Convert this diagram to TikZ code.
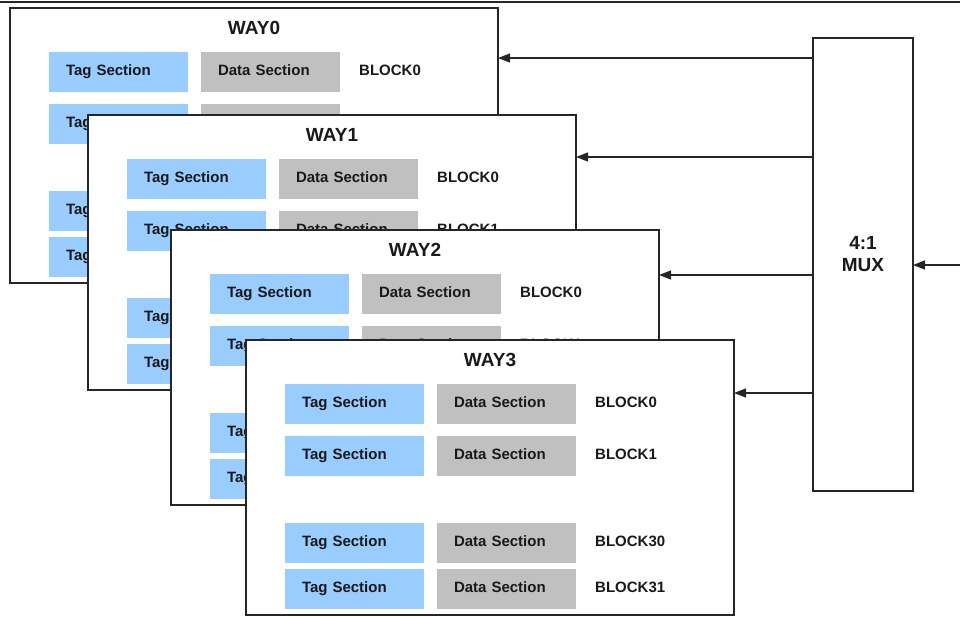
\documentclass[tikz,border=0pt]{standalone}
\usepackage{fontspec}
\setmainfont{Liberation Sans}
\usetikzlibrary{arrows.meta}
\definecolor{tagblue}{HTML}{99CCFF}
\definecolor{datagray}{HTML}{C0C0C0}
\tikzset{
  waybox/.style={draw=black!85, line width=1.2pt, fill=white, outer sep=0pt,
    minimum width=488pt, minimum height=275pt, inner sep=0pt},
  waytitle/.style={font=\bfseries\fontsize{19}{22}\selectfont, text=black!90, inner sep=0pt},
  cell/.style={minimum height=40pt, inner xsep=17pt, inner ysep=0pt, outer sep=0pt,
    text width=105pt, align=left, text height=11pt, text depth=5pt,
    font=\bfseries\fontsize{15}{18}\selectfont, text=black!90},
  tagcell/.style={cell, fill=tagblue},
  datacell/.style={cell, fill=datagray},
  blocklabel/.style={font=\bfseries\fontsize{15}{18}\selectfont, text=black!90, inner sep=0pt},
  muxbox/.style={draw=black!85, line width=1.2pt, fill=white, outer sep=0pt,
    minimum width=100pt, minimum height=453pt, inner sep=0pt},
  muxtext/.style={font=\bfseries\fontsize{19}{22}\selectfont, text=black!90, align=center, inner sep=0pt},
  sel/.style={draw=black!85, line width=1.3pt, -{Triangle[length=12pt, width=9pt]}},
}
% One way of the cache: frame, title and four tag/data rows
\newcommand\cacheway[4]{%
  \begin{scope}[shift={(#2,#3)}]
    \node[waybox, anchor=north west] (#1) at (0,0) {};
    \node[waytitle] (#1title) at (244,20) {#4};
    \foreach \i/\yt/\lab in {0/44/BLOCK0, 1/96/BLOCK1, 2/183/BLOCK30, 3/229/BLOCK31} {
      \node[tagcell, anchor=north west] (#1tag\i) at (39,\yt) {Tag Section};
      \node[datacell, anchor=north west] (#1data\i) at (191,\yt) {Data Section};
      \node[blocklabel, anchor=west] (#1lab\i) at (349,\yt+18) {\lab};
    }
  \end{scope}}
\begin{document}
\begin{tikzpicture}[x=1pt, y=-1pt]
  \useasboundingbox (0,0) rectangle (960,616);
  % rule across the top
  \coordinate (ruleL) at (0,2);
  \coordinate (ruleR) at (960,2);
  \draw[black!85, line width=1.5pt] (ruleL) -- (ruleR);

  % the four ways, stacked back to front
  \cacheway{way0}{10}{8}{WAY0}
  \cacheway{way1}{88}{115}{WAY1}
  \cacheway{way2}{171}{230}{WAY2}
  \cacheway{way3}{246}{340}{WAY3}

  % multiplexer
  \node[muxbox, anchor=north west] (mux) at (813,38) {};
  \node[muxtext] (muxlabel) at (863,254) {4:1\\MUX};

  % select lines to each way
  \coordinate (s0) at (0,58);
  \coordinate (s1) at (0,157);
  \coordinate (s2) at (0,275);
  \coordinate (s3) at (0,393);
  \draw[sel] (mux.west |- s0) -- (way0.east |- s0);
  \draw[sel] (mux.west |- s1) -- (way1.east |- s1);
  \draw[sel] (mux.west |- s2) -- (way2.east |- s2);
  \draw[sel] (mux.west |- s3) -- (way3.east |- s3);

  % input to the multiplexer
  \coordinate (muxin) at (960,265);
  \draw[sel] (muxin) -- (mux.east |- muxin);
\end{tikzpicture}
\end{document}
